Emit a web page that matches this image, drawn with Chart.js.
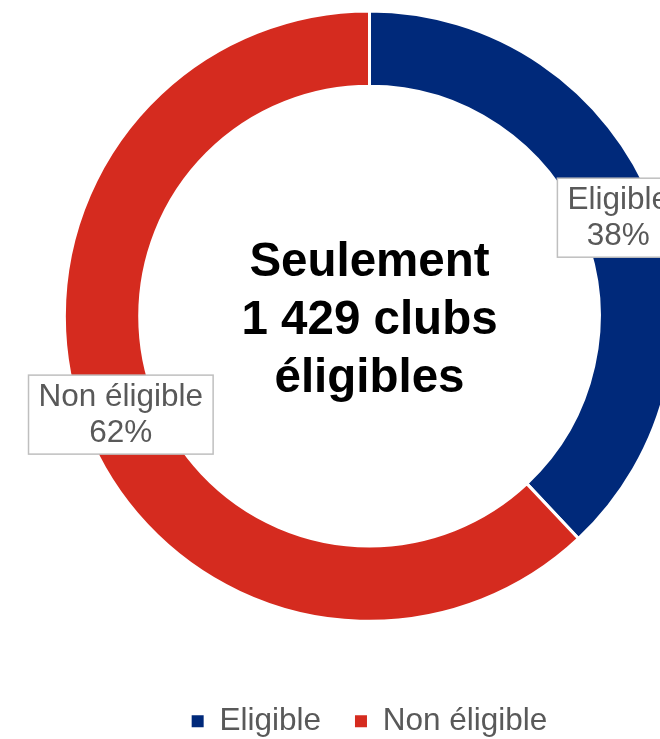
<!DOCTYPE html>
<html>
<head>
<meta charset="utf-8">
<script src="https://cdn.jsdelivr.net/npm/chart.js@4/dist/chart.umd.min.js"></script>
<style>
  html, body { margin: 0; padding: 0; background: #fff; }
  #frame { position: relative; width: 660px; height: 739px; overflow: hidden; }
  #frame canvas { position: absolute; left: 0; top: 0; }
</style>
</head>
<body>
<div id="frame"><canvas id="clubs" width="739" height="747"></canvas></div>
<script>
const categories = ['Eligible', 'Non éligible'];
const shares = [38, 62];
const sliceColors = ['#00297A', '#D52B1F'];
const centerLines = ['Seulement', '1 429 clubs', 'éligibles'];

const FONT = '"Liberation Sans", Arial, sans-serif';

// boxed category + percentage on each slice
const sliceLabels = {
    id: 'sliceLabels',
    afterDatasetsDraw(chart) {
        const ctx = chart.ctx;
        const meta = chart.getDatasetMeta(0);
        ctx.save();
        ctx.font = '31.5px ' + FONT;
        ctx.textAlign = 'center';
        ctx.textBaseline = 'middle';
        meta.data.forEach((arc, i) => {
            const pos = arc.tooltipPosition();
            const lines = [categories[i], shares[i] + '%'];
            const w = Math.max(...lines.map(t => ctx.measureText(t).width)) + 20;
            const h = 79;
            ctx.fillStyle = '#ffffff';
            ctx.fillRect(pos.x - w / 2, pos.y - h / 2, w, h);
            ctx.strokeStyle = '#bfbfbf';
            ctx.lineWidth = 1.5;
            ctx.strokeRect(pos.x - w / 2, pos.y - h / 2, w, h);
            ctx.fillStyle = '#595959';
            ctx.fillText(lines[0], pos.x, pos.y - 17);
            ctx.fillText(lines[1], pos.x, pos.y + 19);
        });
        ctx.restore();
    }
};

// bold message in the hole of the ring
const centerText = {
    id: 'centerText',
    afterDraw(chart) {
        const ctx = chart.ctx;
        const arc = chart.getDatasetMeta(0).data[0];
        if (!arc) {
            return;
        }
        ctx.save();
        ctx.font = 'bold 47.5px ' + FONT;
        ctx.textAlign = 'center';
        ctx.textBaseline = 'middle';
        ctx.fillStyle = '#000000';
        centerLines.forEach((line, i) => {
            ctx.fillText(line, arc.x, arc.y + 5 + (i - 1) * 58);
        });
        ctx.restore();
    }
};

new Chart(document.getElementById('clubs'), {
    type: 'doughnut',
    data: {
        labels: categories,
        datasets: [{
            data: shares,
            backgroundColor: sliceColors,
            borderColor: '#ffffff',
            borderWidth: 3,
            hoverOffset: 0
        }]
    },
    options: {
        responsive: false,
        animation: false,
        devicePixelRatio: 1,
        cutout: '75.3%',
        layout: {
            padding: { top: 9.5, left: 62.5, right: 62.5, bottom: 0 }
        },
        plugins: {
            legend: {
                position: 'bottom',
                title: {
                    display: true,
                    text: '',
                    padding: { top: 47.5, bottom: 0 },
                    font: { size: 1 }
                },
                labels: {
                    boxWidth: 12,
                    boxHeight: 12,
                    padding: 34,
                    color: '#595959',
                    font: { size: 31.5, family: FONT },
                    generateLabels(chart) {
                        const items = Chart.overrides.doughnut.plugins.legend.labels.generateLabels(chart);
                        items.forEach(item => {
                            item.lineWidth = 0;
                        });
                        return items;
                    }
                }
            },
            tooltip: { enabled: false }
        }
    },
    plugins: [sliceLabels, centerText]
});
</script>
</body>
</html>
